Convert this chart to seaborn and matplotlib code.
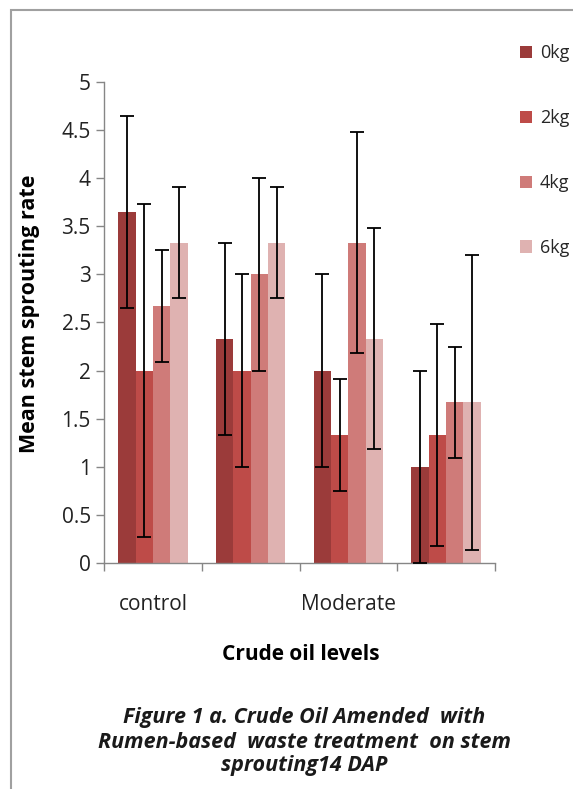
import matplotlib
matplotlib.use("Agg")
import matplotlib.pyplot as plt
import seaborn as sns
import pandas as pd
from matplotlib.patches import Rectangle
from matplotlib.ticker import FuncFormatter

# ---- data ----
categories = ["control", "Low", "Moderate", "High"]
tick_labels = ["control", "", "Moderate", ""]
doses = ["0kg", "2kg", "4kg", "6kg"]
mean_0kg = [3.65, 2.33, 2.0, 1.0]
mean_2kg = [2.0, 2.0, 1.33, 1.33]
mean_4kg = [2.67, 3.0, 3.33, 1.67]
mean_6kg = [3.33, 3.33, 2.33, 1.67]
err_0kg = [1.0, 1.0, 1.0, 1.0]
err_2kg = [1.73, 1.0, 0.58, 1.15]
err_4kg = [0.58, 1.0, 1.15, 0.58]
err_6kg = [0.58, 0.58, 1.15, 1.53]
y_ticks = [0, 0.5, 1, 1.5, 2, 2.5, 3, 3.5, 4, 4.5, 5]

means = [mean_0kg, mean_2kg, mean_4kg, mean_6kg]
errs = [err_0kg, err_2kg, err_4kg, err_6kg]
colors = ["#9B3B3A", "#BE4B48", "#CF7B79", "#DFB2B1"]

rows = []
for d, m in zip(doses, means):
    for c, v in zip(categories, m):
        rows.append({"level": c, "dose": d, "value": v})
df = pd.DataFrame(rows)

sns.set_theme(style="white")
plt.rcParams["font.family"] = ["Open Sans", "DejaVu Sans"]

fig = plt.figure(figsize=(5.73, 7.89), dpi=100)
ax = fig.add_axes([104 / 573, 1 - 563 / 789, (495 - 104) / 573, (563 - 82) / 789])

sns.barplot(data=df, x="level", y="value", hue="dose", order=categories,
            hue_order=doses, palette=colors, width=0.71, errorbar=None,
            saturation=1, linewidth=0, ax=ax)

for cont, m, e in zip(ax.containers, means, errs):
    xs = [p.get_x() + p.get_width() / 2 for p in cont.patches]
    ax.errorbar(xs, m, yerr=e, fmt="none", ecolor="black", elinewidth=1.3,
                capsize=5.0, capthick=1.3, zorder=5)

handles, labels = ax.get_legend_handles_labels()
if ax.get_legend() is not None:
    ax.get_legend().remove()
fig.legend(handles[:4], labels[:4], loc="upper left",
           bbox_to_anchor=(520 / 573, 1 - 44 / 789), bbox_transform=fig.transFigure,
           frameon=False, fontsize=13, handlelength=0.65, handleheight=0.65,
           labelspacing=2.6, handletextpad=0.45, borderpad=0, borderaxespad=0)

ax.set_xlim(-0.5, 3.5)
ax.set_ylim(0, 5)
ax.set_yticks(y_ticks)
ax.yaxis.set_major_formatter(FuncFormatter(lambda v, p: f"{v:g}"))
ax.set_xticks([-0.5, 0.5, 1.5, 2.5, 3.5])
ax.set_xticklabels([])
ax.set_xticks(range(len(categories)), minor=True)
ax.set_xticklabels(tick_labels, minor=True)
ax.tick_params(axis="x", which="major", direction="out", length=6, width=1, color="#868686", bottom=True)
ax.tick_params(axis="x", which="minor", length=0, pad=22, labelsize=15, labelcolor="#222222")
ax.tick_params(axis="y", direction="out", length=5.5, width=1, color="#868686", left=True,
               pad=4, labelsize=15, labelcolor="#222222")
for s in ["top", "right"]:
    ax.spines[s].set_visible(False)
for s in ["left", "bottom"]:
    ax.spines[s].set_color("#868686")
    ax.spines[s].set_linewidth(1)
ax.set_xlabel("")
ax.set_ylabel("")

fig.text(30 / 573, 1 - 314 / 789, "Mean stem sprouting rate", rotation=90,
         ha="center", va="center", fontsize=15.5, fontweight="bold", color="black")
fig.text(301 / 573, 1 - 655 / 789, "Crude oil levels", ha="center", va="center",
         fontsize=15, fontweight="bold", color="black")
cap_lines = ["Figure 1 a. Crude Oil Amended  with",
             "Rumen-based  waste treatment  on stem",
             "sprouting14 DAP"]
for i, line in enumerate(cap_lines):
    fig.text(304 / 573, 1 - (718 + 24 * i) / 789, line, ha="center", va="center",
             fontsize=15.5, fontweight="bold", fontstyle="italic", color="#1a1a1a")

fig.patches.append(Rectangle((11 / 573, -0.1), 1.2, 1.1 - 10 / 789, transform=fig.transFigure,
                             fill=False, edgecolor="#a0a0a0", linewidth=1.5, clip_on=False))

fig.savefig("out.png", dpi=100)
